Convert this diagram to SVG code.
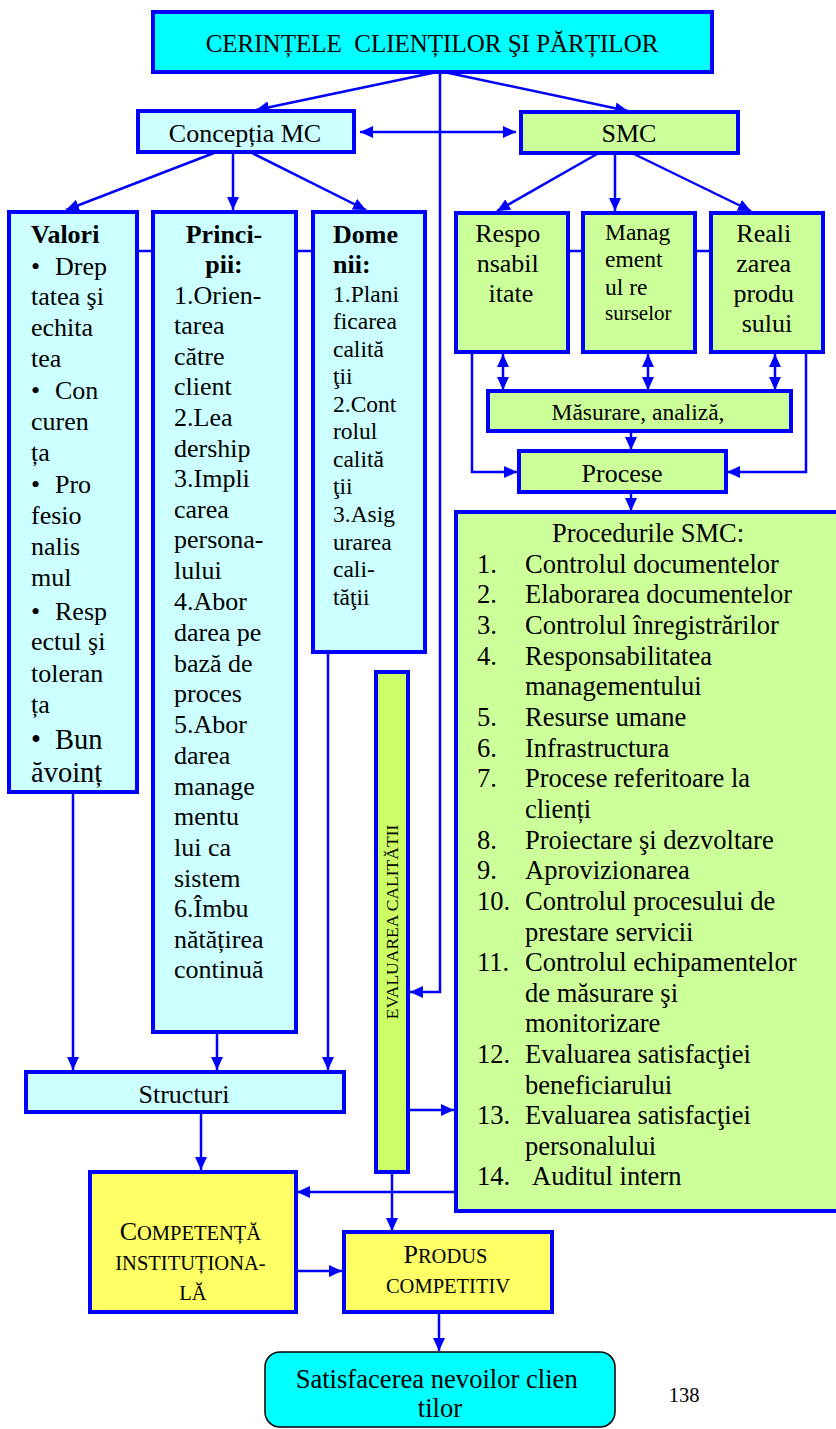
<svg xmlns="http://www.w3.org/2000/svg" width="836" height="1429" viewBox="0 0 836 1429" font-family="'Liberation Serif', 'Times New Roman', Times, serif">
  <style>
    text, tspan { font-family: "Liberation Serif", "Times New Roman", Times, serif; }
    text { fill: #000; }
    .box { stroke: #0000ff; stroke-width: 4; }
    .cyan { fill: #00ffff; }
    .lcyan { fill: #ccffff; }
    .green { fill: #ccff99; }
    .lime { fill: #ccff66; }
    .yellow { fill: #ffff66; }
    .wire { fill: none; stroke: #0000ff; stroke-width: 2.5; }
    .arr { marker-end: url(#head); }
    .dbl { marker-start: url(#head); marker-end: url(#head); }
    .t26 { font-size: 26px; }
    .mid { text-anchor: middle; }
    .b { font-weight: bold; }
  </style>
  <defs>
    <marker id="head" markerUnits="userSpaceOnUse" markerWidth="14" markerHeight="12" refX="13" refY="6" orient="auto-start-reverse">
      <path d="M0,0 L13,6 L0,12 z" fill="#0000ff"/>
    </marker>
  </defs>

  <!-- connectors -->
  <g id="connectors">
    <!-- from the top box -->
    <line class="wire arr" x1="437" y1="72" x2="256" y2="110"/>
    <line class="wire arr" x1="444" y1="72" x2="628" y2="111"/>
    <polyline class="wire arr" points="440,72 440,992 410,992"/>
    <line class="wire dbl" x1="360" y1="132" x2="516" y2="132"/>
    <!-- Conceptia MC to its three columns -->
    <line class="wire arr" x1="214" y1="153" x2="66" y2="210"/>
    <line class="wire arr" x1="233" y1="153" x2="233" y2="210"/>
    <line class="wire arr" x1="252" y1="153" x2="366" y2="210"/>
    <!-- SMC to its three columns -->
    <line class="wire arr" x1="597" y1="154" x2="497" y2="211"/>
    <line class="wire arr" x1="615" y1="154" x2="615" y2="211"/>
    <line class="wire arr" x1="634" y1="154" x2="751" y2="211"/>
    <!-- side links between the columns -->
    <line class="wire" x1="137" y1="251" x2="152" y2="251"/>
    <line class="wire" x1="296" y1="251" x2="312" y2="251"/>
    <line class="wire" x1="568" y1="251" x2="583" y2="251"/>
    <line class="wire" x1="695" y1="251" x2="711" y2="251"/>
    <!-- SMC columns to measurement -->
    <line class="wire dbl" x1="503" y1="354" x2="503" y2="390"/>
    <line class="wire dbl" x1="648" y1="354" x2="648" y2="390"/>
    <line class="wire dbl" x1="775" y1="354" x2="775" y2="390"/>
    <line class="wire arr" x1="631" y1="432" x2="631" y2="450"/>
    <polyline class="wire arr" points="472,353 472,472 517,472"/>
    <polyline class="wire arr" points="806,353 806,472 727,472"/>
    <line class="wire arr" x1="631" y1="493" x2="631" y2="511"/>
    <!-- columns down to Structuri -->
    <line class="wire arr" x1="73" y1="793" x2="73" y2="1070"/>
    <line class="wire arr" x1="217" y1="1033" x2="217" y2="1070"/>
    <line class="wire arr" x1="328" y1="653" x2="328" y2="1070"/>
    <line class="wire arr" x1="201" y1="1113" x2="201" y2="1170"/>
    <!-- evaluation links -->
    <line class="wire arr" x1="409" y1="1110" x2="454" y2="1110"/>
    <line class="wire arr" x1="455" y1="1192" x2="297" y2="1192"/>
    <line class="wire arr" x1="392" y1="1173" x2="392" y2="1231"/>
    <line class="wire arr" x1="297" y1="1271" x2="342" y2="1271"/>
    <line class="wire arr" x1="439" y1="1313" x2="439" y2="1351"/>
  </g>

  <g id="cerinte">
    <rect class="box cyan" x="153" y="12" width="559" height="60"/>
    <text class="mid" x="432" y="52" font-size="25" xml:space="preserve">CERINȚELE  CLIENȚILOR ŞI PĂRȚILOR</text>
  </g>

  <g id="conceptia">
    <rect class="box lcyan" x="138" y="111" width="216" height="41"/>
    <text class="t26 mid" x="245" y="142">Concepția MC</text>
  </g>

  <g id="smc">
    <rect class="box green" x="521" y="112" width="217" height="41"/>
    <text class="t26 mid" x="629" y="142">SMC</text>
  </g>

  <g id="valori">
    <rect class="box lcyan" x="9" y="212" width="128" height="580"/>
    <text class="t26" x="31">
      <tspan class="b" x="31" y="243">Valori</tspan>
      <tspan x="31" y="275">•</tspan><tspan x="55" y="275">Drep</tspan>
      <tspan x="31" y="305">tatea şi</tspan>
      <tspan x="31" y="336">echita</tspan>
      <tspan x="31" y="367">tea</tspan>
      <tspan x="31" y="399">•</tspan><tspan x="55" y="399">Con</tspan>
      <tspan x="31" y="430">curen</tspan>
      <tspan x="31" y="461">ța</tspan>
      <tspan x="31" y="493">•</tspan><tspan x="55" y="493">Pro</tspan>
      <tspan x="31" y="524">fesio</tspan>
      <tspan x="31" y="555">nalis</tspan>
      <tspan x="31" y="586">mul</tspan>
      <tspan x="31" y="620">•</tspan><tspan x="55" y="620">Resp</tspan>
      <tspan x="31" y="650">ectul şi</tspan>
      <tspan x="31" y="682">toleran</tspan>
      <tspan x="31" y="713">ța</tspan>
    </text>
    <text font-size="28.5px" x="31">
      <tspan x="31" y="749">•</tspan><tspan x="55" y="749">Bun</tspan>
      <tspan x="31" y="782">ăvoinț</tspan>
    </text>
  </g>

  <g id="principii">
    <rect class="box lcyan" x="153" y="212" width="143" height="820"/>
    <text class="t26 b mid" x="224" y="243">Princi-</text>
    <text class="t26 b mid" x="224" y="273">pii:</text>
    <text class="t26">
      <tspan x="174" y="304">1.Orien-</tspan>
      <tspan x="174" y="334">tarea</tspan>
      <tspan x="174" y="365">către</tspan>
      <tspan x="174" y="395">client</tspan>
      <tspan x="174" y="426">2.Lea</tspan>
      <tspan x="174" y="457">dership</tspan>
      <tspan x="174" y="487">3.Impli</tspan>
      <tspan x="174" y="518">carea</tspan>
      <tspan x="174" y="548">persona-</tspan>
      <tspan x="174" y="579">lului</tspan>
      <tspan x="174" y="610">4.Abor</tspan>
      <tspan x="174" y="641">darea pe</tspan>
      <tspan x="174" y="672">bază de</tspan>
      <tspan x="174" y="702">proces</tspan>
      <tspan x="174" y="733">5.Abor</tspan>
      <tspan x="174" y="764">darea</tspan>
      <tspan x="174" y="795">manage</tspan>
      <tspan x="174" y="825">mentu</tspan>
      <tspan x="174" y="856">lui ca</tspan>
      <tspan x="174" y="887">sistem</tspan>
      <tspan x="174" y="917">6.Îmbu</tspan>
      <tspan x="174" y="948">nătățirea</tspan>
      <tspan x="174" y="978">continuă</tspan>
    </text>
  </g>

  <g id="domenii">
    <rect class="box lcyan" x="313" y="212" width="112" height="440"/>
    <text class="t26 b" x="333" y="243">Dome</text>
    <text class="t26 b" x="333" y="273">nii:</text>
    <text font-size="23.5px">
      <tspan x="333" y="302">1.Plani</tspan>
      <tspan x="333" y="329">ficarea</tspan>
      <tspan x="333" y="357">calită</tspan>
      <tspan x="333" y="384">ţii</tspan>
      <tspan x="333" y="412">2.Cont</tspan>
      <tspan x="333" y="439">rolul</tspan>
      <tspan x="333" y="467">calită</tspan>
      <tspan x="333" y="494">ţii</tspan>
      <tspan x="333" y="522">3.Asig</tspan>
      <tspan x="333" y="550">urarea</tspan>
      <tspan x="333" y="577">cali-</tspan>
      <tspan x="333" y="605">tăţii</tspan>
    </text>
  </g>

  <g id="responsabilitate">
    <rect class="box green" x="456" y="213" width="112" height="139"/>
    <text class="t26 mid">
      <tspan x="511" y="242">Respo</tspan>
      <tspan x="511" y="272">nsabil</tspan>
      <tspan x="511" y="302">itate</tspan>
    </text>
  </g>

  <g id="management-resurse">
    <rect class="box green" x="583" y="213" width="112" height="139"/>
    <text font-size="23.5px">
      <tspan x="605" y="240">Manag</tspan>
      <tspan x="605" y="267">ement</tspan>
      <tspan x="605" y="295">ul re</tspan>
      <tspan x="605" y="320" font-size="21px">surselor</tspan>
    </text>
  </g>

  <g id="realizare">
    <rect class="box green" x="711" y="213" width="112" height="139"/>
    <text class="t26 mid">
      <tspan x="767" y="242">Reali</tspan>
      <tspan x="767" y="272">zarea</tspan>
      <tspan x="767" y="302">produ</tspan>
      <tspan x="767" y="332">sului</tspan>
    </text>
  </g>

  <g id="masurare">
    <rect class="box green" x="488" y="391" width="303" height="40"/>
    <text class="mid" x="638" y="420" font-size="23.5">Măsurare, analiză,</text>
  </g>

  <g id="procese">
    <rect class="box green" x="519" y="451" width="207" height="41"/>
    <text class="t26 mid" x="622" y="482">Procese</text>
  </g>

  <g id="proceduri">
    <rect class="box green" x="456" y="512" width="390" height="699"/>
    <text class="mid" x="648" y="542" font-size="26.5">Procedurile SMC:</text>
    <text font-size="26.5px">
      <tspan x="477" y="573">1.</tspan><tspan x="525" y="573">Controlul documentelor</tspan>
      <tspan x="477" y="603">2.</tspan><tspan x="525" y="603">Elaborarea documentelor</tspan>
      <tspan x="477" y="634">3.</tspan><tspan x="525" y="634">Controlul înregistrărilor</tspan>
      <tspan x="477" y="665">4.</tspan><tspan x="525" y="665">Responsabilitatea</tspan>
      <tspan x="525" y="695">managementului</tspan>
      <tspan x="477" y="726">5.</tspan><tspan x="525" y="726">Resurse umane</tspan>
      <tspan x="477" y="757">6.</tspan><tspan x="525" y="757">Infrastructura</tspan>
      <tspan x="477" y="787">7.</tspan><tspan x="525" y="787">Procese referitoare la</tspan>
      <tspan x="525" y="818">clienți</tspan>
      <tspan x="477" y="849">8.</tspan><tspan x="525" y="849">Proiectare şi dezvoltare</tspan>
      <tspan x="477" y="879">9.</tspan><tspan x="525" y="879">Aprovizionarea</tspan>
      <tspan x="477" y="910">10.</tspan><tspan x="525" y="910">Controlul procesului de</tspan>
      <tspan x="525" y="941">prestare servicii</tspan>
      <tspan x="477" y="971">11.</tspan><tspan x="525" y="971">Controlul echipamentelor</tspan>
      <tspan x="525" y="1002">de măsurare şi</tspan>
      <tspan x="525" y="1032">monitorizare</tspan>
      <tspan x="477" y="1063">12.</tspan><tspan x="525" y="1063">Evaluarea satisfacţiei</tspan>
      <tspan x="525" y="1094">beneficiarului</tspan>
      <tspan x="477" y="1124">13.</tspan><tspan x="525" y="1124">Evaluarea satisfacţiei</tspan>
      <tspan x="525" y="1155">personalului</tspan>
      <tspan x="477" y="1185">14.</tspan><tspan x="532" y="1185">Auditul intern</tspan>
    </text>
  </g>

  <g id="evaluarea">
    <rect class="box lime" x="376" y="672" width="32" height="500"/>
    <text class="mid" font-size="17.5" transform="translate(398 922) rotate(-90)" x="0" y="0">EVALUAREA CALITĂTII</text>
  </g>

  <g id="structuri">
    <rect class="box lcyan" x="26" y="1072" width="318" height="40"/>
    <text class="t26 mid" x="184" y="1103">Structuri</text>
  </g>

  <g id="competenta">
    <rect class="box yellow" x="90" y="1172" width="206" height="140"/>
    <text class="mid" font-size="20.5">
      <tspan x="193" y="1240"><tspan font-size="26">C</tspan>OMPETENȚĂ</tspan>
      <tspan x="193" y="1270">INSTITUȚIONA-</tspan>
      <tspan x="193" y="1300">LĂ</tspan>
    </text>
  </g>

  <g id="produs">
    <rect class="box yellow" x="344" y="1232" width="208" height="80"/>
    <text class="mid" font-size="20.5">
      <tspan x="448" y="1263"><tspan font-size="26">P</tspan>RODUS</tspan>
      <tspan x="448" y="1293">COMPETITIV</tspan>
    </text>
  </g>

  <g id="satisfacerea">
    <rect x="265" y="1352" width="350" height="75" rx="15" fill="#00ffff" stroke="#000" stroke-width="1.5"/>
    <text class="mid" font-size="26.6">
      <tspan x="440" y="1388">Satisfacerea nevoilor clien</tspan>
      <tspan x="440" y="1417">tilor</tspan>
    </text>
  </g>

  <text x="684" y="1402" font-size="20.5" class="mid">138</text>
</svg>
